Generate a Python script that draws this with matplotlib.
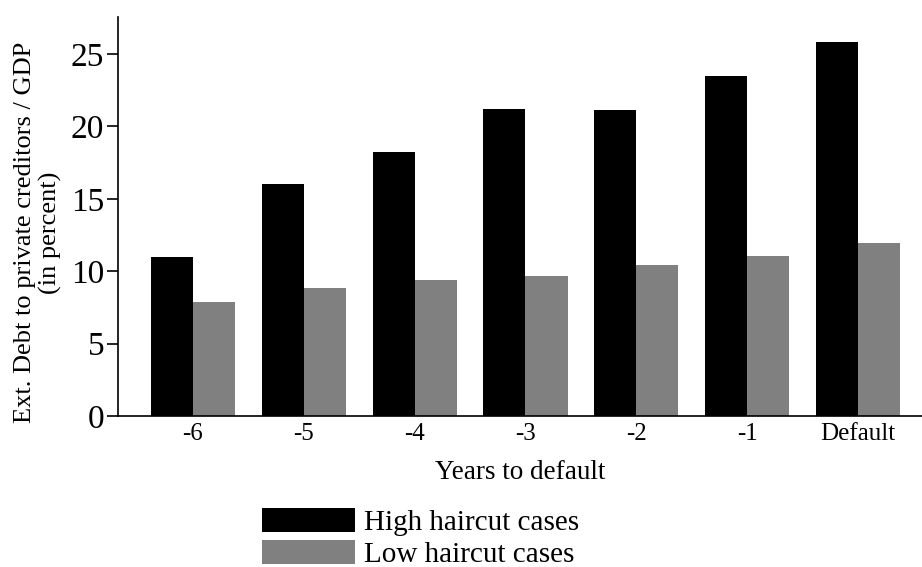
import matplotlib
matplotlib.use("Agg")
import matplotlib.pyplot as plt
import numpy as np

# 数据
categories = ["-6", "-5", "-4", "-3", "-2", "-1", "Default"]
high_haircut = [11.0, 16.0, 18.2, 21.2, 21.15, 23.5, 25.8]
low_haircut = [7.9, 8.85, 9.4, 9.7, 10.45, 11.05, 11.95]
series_labels = ["High haircut cases", "Low haircut cases"]
y_ticks = [0, 5, 10, 15, 20, 25]

plt.rcParams["font.family"] = ["Liberation Serif", "DejaVu Serif"]

fig = plt.figure(figsize=(9.22, 5.67), dpi=100)
ax = fig.add_axes([0.128, 0.2663, 0.872, 0.7037])

x = np.arange(len(categories))
w = 0.38
b1 = ax.bar(x - w / 2, high_haircut, width=w, color="#000000", linewidth=0)
b2 = ax.bar(x + w / 2, low_haircut, width=w, color="#808080", linewidth=0)

ax.set_xlim(-0.676, len(categories) - 1 + 0.577)
ax.set_ylim(0, 27.55)
ax.set_xticks(x)
ax.set_xticklabels(categories, fontsize=18)
ax.set_yticks(y_ticks)
ax.set_yticklabels([str(t) for t in y_ticks], fontsize=24)
ax.tick_params(axis="x", length=0, pad=5)
ax.tick_params(axis="y", length=8, width=1.2, pad=2)

for s in ["top", "right"]:
    ax.spines[s].set_visible(False)
for s in ["left", "bottom"]:
    ax.spines[s].set_linewidth(1.2)

ax.set_xlabel("Years to default", fontsize=19.5, labelpad=11)
ax.set_ylabel("Ext. Debt to private creditors / GDP\n(in percent)",
              fontsize=19, linespacing=1.15)
ax.yaxis.set_label_coords(-0.07, 0.46)

fig.legend([b1, b2], series_labels, loc="upper left",
           bbox_to_anchor=(262 / 922, 1 - 508 / 567),
           frameon=False, fontsize=21, handlelength=3.2, handleheight=0.9,
           handletextpad=0.3, labelspacing=0.12, borderpad=0, borderaxespad=0)

fig.savefig("out.png", dpi=100)
